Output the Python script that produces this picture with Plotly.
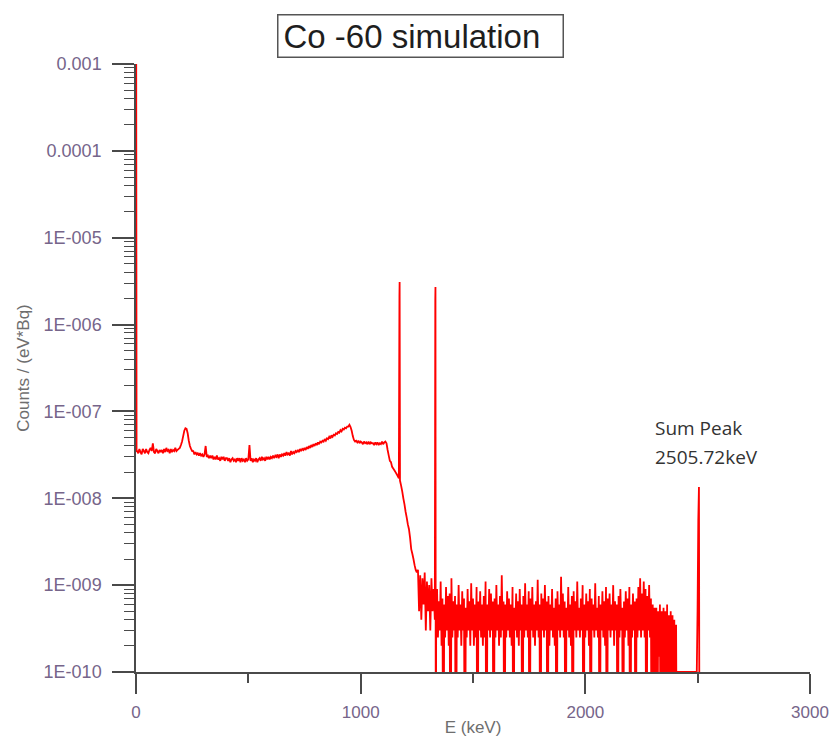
import numpy as np
import plotly.graph_objects as go

# ---------------------------------------------------------------------------
# Simulated Co-60 spectrum, counts per (eV*Bq)
# ---------------------------------------------------------------------------

# Very low energy spike at the start of the spectrum
spike_e = [0.0, 1.0, 2.5]
spike_counts = [3.4e-4, 1.0e-3, 3.5e-8]

# Compton continuum, 5 keV bins starting at 5 keV, in units of 1e-9
cont_start_kev = 5
cont_step_kev = 5
continuum_1e9 = [
    35, 33, 37, 34, 32, 37, 35, 33, 37, 34,        # 5-50
    33, 36, 38, 35, 43, 34, 33, 37, 35, 33,        # 55-100
    36, 34, 36, 33, 37, 34, 38, 35, 36, 33,        # 105-150
    37, 34, 36, 35, 38, 35, 36, 37, 38, 41,        # 155-200
    45, 52, 60, 64, 63, 56, 46, 40, 37, 35,        # 205-250
    35, 32, 34, 32, 33, 31, 33, 31, 32, 30,        # 255-300
    32, 40, 30, 31, 29, 31, 29, 31, 28, 30,        # 305-350
    28, 31, 28, 29, 27, 30, 28, 30, 27, 29,        # 355-400
    29, 27, 29, 26, 28, 29, 27, 28, 26, 29,        # 405-450
    27, 29, 26, 29, 27, 28, 26, 29, 27, 28,        # 455-500
    41, 27, 29, 26, 28, 27, 29, 26, 28, 29,        # 505-550
    27, 30, 28, 29, 27, 30, 28, 30, 28, 30,        # 555-600
    29, 31, 29, 31, 30, 32, 29, 32, 30, 32,        # 605-650
    31, 33, 31, 34, 32, 33, 31, 35, 32, 34,        # 655-700
    33, 35, 34, 36, 34, 37, 35, 37, 36, 38,        # 705-750
    36, 39, 37, 40, 38, 41, 39, 42, 40, 43,        # 755-800
    41, 44, 42, 45, 44, 46, 45, 48, 46, 49,        # 805-850
    48, 51, 49, 53, 51, 54, 53, 56, 55, 58,        # 855-900
    57, 61, 59, 63, 62, 65, 64, 67, 67, 70,        # 905-950
    66, 60, 52, 47, 45, 46, 44, 46, 43, 45,        # 955-1000
    44, 42, 45, 43, 44, 42, 45, 42, 44, 43,        # 1005-1050
    43, 41, 44, 42, 44, 41, 43, 42, 45, 42,        # 1055-1100
    44, 45, 43, 36, 31, 27, 26, 23, 22, 21,        # 1105-1150
    20, 19, 18, 17, 16, 14, 12, 10, 8.5, 7,        # 1155-1200
    6, 5, 4.4, 3.5, 2.6, 2.3, 2.0, 1.7, 1.5, 1.4,  # 1205-1250
    1.5, 0.5, 1.3, 0.4, 1.2, 0.6, 1.4, 0.3, 1.1, 0.5,  # 1255-1300
    1.0, 0.3, 1.2, 0.5, 0.9, 0.4,                  # 1305-1330
]

# Full-energy peaks of Co-60 (1173 keV and 1332 keV); 0 = empty bin
gamma_e = [1172.6, 1173.4, 1332.1, 1332.9, 1334.5]
gamma_counts = [2.1e-6, 3.1e-6, 1.9e-6, 2.7e-6, 0.0]

# Statistical tail above the 1332 keV peak, 4 keV bins from 1336 keV, units of 1e-11
tail_start_kev = 1336
tail_step_kev = 4
tail_1e11 = [
    30, 90, 25, 65, 30, 110, 20, 70, 0, 60, 25, 95, 30, 75, 20, 80, 0, 120, 25, 65,
    30, 75, 0, 60, 25, 100, 30, 60, 20, 85, 30, 70, 0, 55, 25, 90, 30, 65, 20, 105,
    30, 70, 20, 60, 25, 95, 0, 65, 30, 85, 25, 60, 20, 75, 25, 110, 0, 60, 30, 90,
    25, 80, 30, 65, 0, 70, 25, 100, 30, 60, 20, 75, 25, 130, 30, 65, 0, 60, 25, 85,
    30, 70, 25, 60, 20, 95, 0, 55, 30, 80, 25, 65, 20, 90, 30, 60, 0, 75, 25, 105,
    30, 60, 25, 85, 0, 70, 30, 95, 25, 60, 20, 65, 30, 115, 25, 60, 0, 80, 30, 70,
    25, 100, 30, 65, 0, 75, 20, 60, 30, 90, 25, 55, 20, 70, 0, 85, 30, 60, 25, 125,
    30, 80, 25, 65, 0, 55, 30, 95, 25, 60, 20, 75, 0, 85, 30, 65, 25, 110, 30, 55,
    25, 70, 30, 100, 0, 60, 25, 80, 30, 65, 20, 90, 0, 70, 30, 60, 25, 105, 30, 55,
    25, 75, 0, 60, 30, 85, 25, 65, 20, 95, 0, 70, 30, 80, 25, 60, 30, 100, 20, 65,
    30, 60, 0, 75, 25, 90, 30, 55, 0, 65, 25, 85, 30, 70, 20, 95, 0, 60, 25, 80,
    30, 65, 0, 70, 25, 95, 30, 120, 25, 80, 30, 110, 25, 90, 0, 75, 30, 100, 25, 70,
    0, 60, 0, 55, 10, 55, 0, 50, 15, 60, 0, 50, 0, 55, 10, 50, 0, 60, 0, 45,
    0, 50, 0, 45, 0, 40, 0, 35, 0,
]

# Floor level between the tail and the sum peak
gap_e = [2412, 2455, 2496]
gap_counts = [1e-10, 1e-10, 1e-10]

# Sum peak (1173.2 + 1332.5 keV)
sum_peak_kev = 2505.72
sum_e = [2499.5, 2502.8, sum_peak_kev, 2508.5]
sum_counts = [5e-10, 5.6e-9, 1.35e-8, 0.0]

# Axis tick labels
x_ticks = [0, 1000, 2000, 3000]
y_tickvals = [1e-3, 1e-4, 1e-5, 1e-6, 1e-7, 1e-8, 1e-9, 1e-10]
y_ticktext = ["0.001", "0.0001", "1E-005", "1E-006", "1E-007", "1E-008", "1E-009", "1E-010"]

# ---------------------------------------------------------------------------
# Assemble the spectrum
# ---------------------------------------------------------------------------
cont_e = cont_start_kev + cont_step_kev * np.arange(len(continuum_1e9))
cont_counts = np.array(continuum_1e9, dtype=float) * 1e-9
tail_e = tail_start_kev + tail_step_kev * np.arange(len(tail_1e11))
tail_counts = np.array(tail_1e11, dtype=float) * 1e-11

energy = np.concatenate([spike_e, cont_e, gamma_e, tail_e, gap_e, sum_e]).astype(float)
counts = np.concatenate([spike_counts, cont_counts, gamma_counts, tail_counts,
                         gap_counts, sum_counts]).astype(float)
order = np.argsort(energy, kind="stable")
energy = energy[order]
counts = counts[order]
# Empty bins cannot be shown on a log axis: push them below the visible range
counts = np.where(counts > 0, counts, 1e-12)

axis_color = "#4a4a4a"
label_color = "#76658a"
title_gray = "#6e6e6e"
sans = "Liberation Sans, Arial, sans-serif"

fig = go.Figure()
fig.add_trace(go.Scatter(
    x=energy, y=counts, mode="lines",
    line=dict(color="#ff0000", width=1.8, simplify=False),
    hoverinfo="x+y", showlegend=False,
))

fig.update_layout(
    width=834, height=738,
    margin=dict(l=136, r=24, t=64, b=66, autoexpand=False),
    paper_bgcolor="white", plot_bgcolor="white",
    font=dict(family=sans, size=18, color=label_color),
    xaxis=dict(
        range=[0, 3000], tickmode="array", tickvals=x_ticks, automargin=False,
        ticks="outside", ticklen=20, tickwidth=1.5, tickcolor=axis_color,
        minor=dict(ticks="outside", ticklen=9, tickwidth=1.5, tickcolor=axis_color,
                   dtick=500, showgrid=False),
        showline=True, linecolor=axis_color, linewidth=1.5,
        showgrid=False, zeroline=False, ticklabelstandoff=4,
        tickfont=dict(family=sans, size=17, color=label_color),
        title=dict(text="E (keV)", font=dict(family=sans, size=17, color=title_gray),
                   standoff=0),
    ),
    yaxis=dict(
        type="log", range=[-10, -3], tickmode="array", automargin=False,
        tickvals=y_tickvals, ticktext=y_ticktext,
        ticks="outside", ticklen=22, tickwidth=1.5, tickcolor=axis_color,
        minor=dict(ticks="outside", ticklen=10, tickwidth=1.2, tickcolor=axis_color,
                   dtick="D1", showgrid=False),
        showline=True, linecolor=axis_color, linewidth=1.5,
        showgrid=False, zeroline=False, ticklabelstandoff=7,
        tickfont=dict(family=sans, size=18, color=label_color),
        title=dict(text="Counts / (eV*Bq)", font=dict(family=sans, size=17, color=title_gray),
                   standoff=10),
    ),
    annotations=[
        dict(text="Co -60 simulation", xref="paper", yref="paper",
             x=0.4215, y=1.046, xanchor="center", yanchor="middle", showarrow=False,
             align="left",
             font=dict(family=sans, size=33, color="#1e1e1e"),
             bordercolor="#555555", borderwidth=1.5, borderpad=5,
             width=274, height=31, bgcolor="white"),
        dict(text="Sum Peak", xref="x", yref="y", x=2301, y=-7.19,
             xanchor="left", yanchor="middle", showarrow=False,
             font=dict(family="Open Sans, sans-serif", size=19, color="#333333")),
        dict(text="%.2fkeV" % sum_peak_kev, xref="x", yref="y", x=2301, y=-7.525,
             xanchor="left", yanchor="middle", showarrow=False,
             font=dict(family="Open Sans, sans-serif", size=19, color="#333333")),
    ],
)

fig.write_html("out.html")
